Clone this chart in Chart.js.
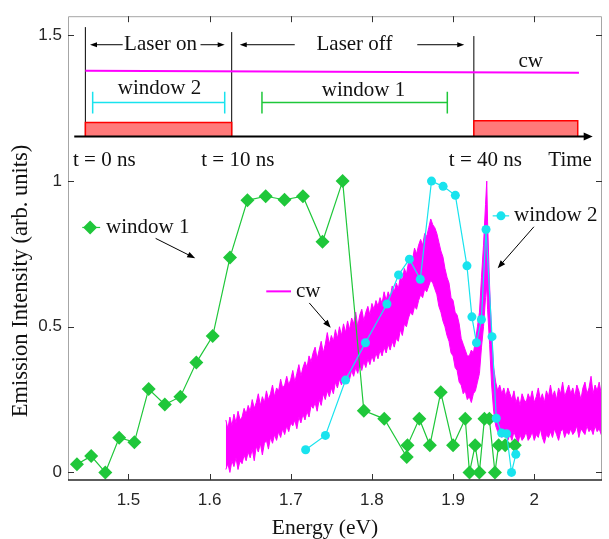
<!DOCTYPE html>
<html>
<head>
<meta charset="utf-8">
<script src="https://cdn.jsdelivr.net/npm/chart.js@4.4.0/dist/chart.umd.min.js"></script>
<style>
  body { margin: 0; background: #fff; }
</style>
</head>
<body>
<canvas id="chart" width="609" height="539"></canvas>
<script>
// window 1 (green diamonds)
const win1Energy = [1.4365, 1.4541, 1.4715, 1.4886, 1.5073, 1.5249, 1.5448, 1.5640, 1.5836, 1.6038,
                    1.6251, 1.6466, 1.6691, 1.6923, 1.7150, 1.7391, 1.7639, 1.7900, 1.8152, 1.8429,
                    1.8438, 1.8584, 1.8714, 1.8848, 1.9000, 1.9150, 1.9202, 1.9272, 1.9324, 1.9386,
                    1.9447, 1.9516, 1.9561, 1.9642, 1.9761];
const win1Value = [0.028, 0.056, 0.0, 0.119, 0.104, 0.286, 0.233, 0.260, 0.377, 0.468,
                   0.738, 0.934, 0.948, 0.936, 0.948, 0.792, 1.0, 0.212, 0.184, 0.053,
                   0.093, 0.184, 0.093, 0.275, 0.093, 0.184, 0.0, 0.093, 0.0, 0.184,
                   0.184, 0.0, 0.093, 0.093, 0.093];

// window 2 (cyan circles)
const win2Energy = [1.7183, 1.7427, 1.7675, 1.7920, 1.8185, 1.8328, 1.8462, 1.8596, 1.8734, 1.8877,
                    1.9028, 1.9171, 1.9232, 1.9288, 1.9349, 1.9406, 1.9480, 1.9532, 1.9598, 1.9659,
                    1.9720, 1.9773];
const win2Value = [0.078, 0.127, 0.317, 0.445, 0.578, 0.678, 0.732, 0.663, 1.0, 0.982,
                   0.951, 0.709, 0.534, 0.445, 0.525, 0.834, 0.466, 0.186, 0.135, 0.133,
                   0.0, 0.062];

// cw spectrum: the noisy trace is drawn as the band between its lower and upper edge
const cwEnergy = [1.6200, 1.6225, 1.6250, 1.6275, 1.6300, 1.6325, 1.6350, 1.6375, 1.6400, 1.6425,
                  1.6450, 1.6475, 1.6500, 1.6525, 1.6550, 1.6575, 1.6600, 1.6625, 1.6650, 1.6675,
                  1.6700, 1.6725, 1.6750, 1.6775, 1.6800, 1.6825, 1.6850, 1.6875, 1.6900, 1.6925,
                  1.6950, 1.6975, 1.7000, 1.7025, 1.7050, 1.7075, 1.7100, 1.7125, 1.7150, 1.7175,
                  1.7200, 1.7225, 1.7250, 1.7275, 1.7300, 1.7325, 1.7350, 1.7375, 1.7400, 1.7425,
                  1.7450, 1.7475, 1.7500, 1.7525, 1.7550, 1.7575, 1.7600, 1.7625, 1.7650, 1.7675,
                  1.7700, 1.7725, 1.7750, 1.7775, 1.7800, 1.7825, 1.7850, 1.7875, 1.7900, 1.7925,
                  1.7950, 1.7975, 1.8000, 1.8025, 1.8050, 1.8075, 1.8100, 1.8125, 1.8150, 1.8175,
                  1.8200, 1.8225, 1.8250, 1.8275, 1.8300, 1.8325, 1.8350, 1.8375, 1.8400, 1.8425,
                  1.8450, 1.8475, 1.8500, 1.8525, 1.8550, 1.8575, 1.8600, 1.8625, 1.8650, 1.8675,
                  1.8700, 1.8725, 1.8750, 1.8775, 1.8800, 1.8825, 1.8850, 1.8875, 1.8900, 1.8925,
                  1.8950, 1.8975, 1.9000, 1.9025, 1.9050, 1.9075, 1.9100, 1.9125, 1.9150, 1.9175,
                  1.9200, 1.9225, 1.9250, 1.9275, 1.9300, 1.9325, 1.9350, 1.9375, 1.9400, 1.9415, 1.9425,
                  1.9450, 1.9475, 1.9500, 1.9525, 1.9550, 1.9575, 1.9600, 1.9625, 1.9650, 1.9675,
                  1.9700, 1.9725, 1.9750, 1.9775, 1.9800, 1.9825, 1.9850, 1.9875, 1.9900, 1.9925,
                  1.9950, 1.9975, 2.0000, 2.0025, 2.0050, 2.0075, 2.0100, 2.0125, 2.0150, 2.0175,
                  2.0200, 2.0225, 2.0250, 2.0275, 2.0300, 2.0325, 2.0350, 2.0375, 2.0400, 2.0425,
                  2.0450, 2.0475, 2.0500, 2.0525, 2.0550, 2.0575, 2.0600, 2.0625, 2.0650, 2.0675,
                  2.0700, 2.0725, 2.0750, 2.0775, 2.0800, 2.0825, 2.0850];
const cwUpper = [0.18, 0.15, 0.19, 0.16, 0.20, 0.17, 0.21, 0.18, 0.19, 0.22,
                 0.20, 0.23, 0.21, 0.25, 0.22, 0.24, 0.27, 0.23, 0.26, 0.24,
                 0.28, 0.25, 0.27, 0.30, 0.26, 0.29, 0.28, 0.32, 0.29, 0.30,
                 0.33, 0.30, 0.32, 0.35, 0.31, 0.34, 0.37, 0.33, 0.36, 0.38,
                 0.36, 0.40, 0.38, 0.41, 0.43, 0.39, 0.42, 0.45, 0.41, 0.44,
                 0.48, 0.44, 0.47, 0.45, 0.49, 0.46, 0.50, 0.47, 0.51, 0.48,
                 0.52, 0.49, 0.53, 0.51, 0.55, 0.50, 0.54, 0.56, 0.52, 0.55,
                 0.57, 0.54, 0.58, 0.56, 0.59, 0.57, 0.60, 0.58, 0.62, 0.59,
                 0.62, 0.60, 0.64, 0.62, 0.65, 0.63, 0.67, 0.66, 0.70, 0.68,
                 0.72, 0.74, 0.73, 0.77, 0.75, 0.78, 0.80, 0.78, 0.82, 0.81,
                 0.84, 0.87, 0.85, 0.84, 0.82, 0.79, 0.76, 0.74, 0.70, 0.67,
                 0.65, 0.60, 0.59, 0.55, 0.54, 0.51, 0.46, 0.44, 0.42, 0.40,
                 0.40, 0.42, 0.41, 0.45, 0.50, 0.55, 0.67, 0.78, 0.92, 1.00, 0.86,
                 0.64, 0.47, 0.36, 0.31, 0.28, 0.30, 0.27, 0.29, 0.26, 0.29,
                 0.27, 0.25, 0.28, 0.24, 0.26, 0.23, 0.27, 0.25, 0.24, 0.27,
                 0.25, 0.28, 0.24, 0.26, 0.29, 0.25, 0.27, 0.24, 0.28, 0.26,
                 0.30, 0.26, 0.28, 0.25, 0.29, 0.27, 0.31, 0.26, 0.28, 0.30,
                 0.27, 0.29, 0.26, 0.30, 0.28, 0.25, 0.29, 0.31, 0.27, 0.29,
                 0.33, 0.27, 0.30, 0.28, 0.31, 0.27, 0.29];
const cwLower = [0.01, 0.03, 0.00, 0.04, 0.02, 0.05, 0.01, 0.04, 0.03, 0.06,
                 0.04, 0.07, 0.05, 0.08, 0.04, 0.09, 0.07, 0.10, 0.06, 0.10,
                 0.11, 0.08, 0.12, 0.10, 0.13, 0.11, 0.14, 0.12, 0.15, 0.13,
                 0.16, 0.14, 0.17, 0.16, 0.18, 0.15, 0.19, 0.17, 0.20, 0.18,
                 0.21, 0.19, 0.23, 0.22, 0.24, 0.21, 0.25, 0.23, 0.27, 0.25,
                 0.28, 0.26, 0.29, 0.27, 0.31, 0.29, 0.32, 0.30, 0.33, 0.31,
                 0.34, 0.32, 0.35, 0.33, 0.36, 0.34, 0.37, 0.35, 0.38, 0.36,
                 0.39, 0.37, 0.40, 0.38, 0.41, 0.39, 0.42, 0.40, 0.43, 0.41,
                 0.44, 0.42, 0.45, 0.43, 0.46, 0.45, 0.49, 0.47, 0.51, 0.50,
                 0.53, 0.55, 0.54, 0.57, 0.56, 0.59, 0.61, 0.60, 0.63, 0.62,
                 0.64, 0.66, 0.65, 0.63, 0.61, 0.57, 0.55, 0.52, 0.50, 0.47,
                 0.45, 0.41, 0.40, 0.36, 0.35, 0.31, 0.30, 0.27, 0.28, 0.25,
                 0.26, 0.24, 0.27, 0.28, 0.31, 0.34, 0.43, 0.50, 0.60, 0.64, 0.56,
                 0.44, 0.30, 0.21, 0.16, 0.14, 0.15, 0.12, 0.14, 0.13, 0.11,
                 0.13, 0.11, 0.14, 0.12, 0.10, 0.13, 0.11, 0.12, 0.14, 0.11,
                 0.12, 0.14, 0.11, 0.13, 0.12, 0.15, 0.12, 0.10, 0.13, 0.12,
                 0.14, 0.12, 0.15, 0.13, 0.11, 0.14, 0.15, 0.12, 0.14, 0.13,
                 0.15, 0.13, 0.14, 0.16, 0.12, 0.15, 0.14, 0.13, 0.16, 0.14,
                 0.15, 0.13, 0.16, 0.14, 0.15, 0.13, 0.14];

const xTicks = [1.5, 1.6, 1.7, 1.8, 1.9, 2.0];
const yTicks = [0, 0.5, 1, 1.5];

const green = '#1fc73a';
const cyan = '#19e3ee';
const magenta = '#ff00ff';

function pts(xs, ys) {
    return xs.map(function (x, i) { return { x: x, y: ys[i] }; });
}

function arrow(ctx, x1, y1, x2, y2, len, half, lw) {
    const a = Math.atan2(y2 - y1, x2 - x1);
    ctx.lineWidth = lw;
    ctx.beginPath();
    ctx.moveTo(x1, y1);
    ctx.lineTo(x2 - Math.cos(a) * len * 0.8, y2 - Math.sin(a) * len * 0.8);
    ctx.stroke();
    ctx.beginPath();
    ctx.moveTo(x2, y2);
    ctx.lineTo(x2 - Math.cos(a) * len - Math.sin(a) * half, y2 - Math.sin(a) * len + Math.cos(a) * half);
    ctx.lineTo(x2 - Math.cos(a) * len + Math.sin(a) * half, y2 - Math.sin(a) * len - Math.cos(a) * half);
    ctx.closePath();
    ctx.fill();
}

// frame, inward ticks, axis titles, timing inset and the in-plot labels
const decor = {
    id: 'decor',
    afterDatasetsDraw: function (chart) {
        const ctx = chart.ctx;
        const xs = chart.scales.x, ys = chart.scales.y;
        const X = function (v) { return xs.getPixelForValue(v); };
        const Y = function (v) { return ys.getPixelForValue(v); };
        const a = chart.chartArea;
        ctx.save();

        // box
        ctx.strokeStyle = '#a6a6a6';
        ctx.lineWidth = 1;
        ctx.beginPath();
        ctx.moveTo(a.left + 0.5, a.bottom);
        ctx.lineTo(a.left + 0.5, a.top + 0.5);
        ctx.lineTo(a.right - 0.5, a.top + 0.5);
        ctx.lineTo(a.right - 0.5, a.bottom);
        ctx.stroke();
        ctx.strokeStyle = '#262626';
        ctx.lineWidth = 1.5;
        ctx.beginPath();
        ctx.moveTo(a.left, a.bottom);
        ctx.lineTo(a.right, a.bottom);
        ctx.stroke();

        // ticks pointing in
        ctx.strokeStyle = '#333';
        ctx.lineWidth = 1;
        ctx.beginPath();
        xTicks.forEach(function (v) {
            const px = Math.round(X(v)) + 0.5;
            ctx.moveTo(px, a.bottom); ctx.lineTo(px, a.bottom - 6);
            ctx.moveTo(px, a.top); ctx.lineTo(px, a.top + 6);
        });
        yTicks.forEach(function (v) {
            const py = Math.round(Y(v)) + 0.5;
            ctx.moveTo(a.left, py); ctx.lineTo(a.left + 6, py);
            ctx.moveTo(a.right, py); ctx.lineTo(a.right - 6, py);
        });
        ctx.stroke();

        // axis titles
        ctx.fillStyle = '#111';
        ctx.textAlign = 'center';
        ctx.textBaseline = 'middle';
        ctx.font = '21.5px "Liberation Serif"';
        ctx.fillText('Energy (eV)', 325, 528);
        ctx.save();
        ctx.translate(21, 281);
        ctx.rotate(-Math.PI / 2);
        ctx.font = '22.5px "Liberation Serif"';
        ctx.fillText('Emission Intensity (arb. units)', 0, 0);
        ctx.restore();

        // timing inset
        ctx.strokeStyle = '#000';
        ctx.fillStyle = '#000';
        ctx.lineWidth = 1;
        ctx.beginPath();
        ctx.moveTo(X(1.4469), Y(1.5285)); ctx.lineTo(X(1.4469), Y(1.1534));
        ctx.moveTo(X(1.6272), Y(1.5114)); ctx.lineTo(X(1.6272), Y(1.1534));
        ctx.moveTo(X(1.9256), Y(1.4978)); ctx.lineTo(X(1.9256), Y(1.1534));
        ctx.stroke();

        // pulses
        ctx.fillStyle = '#ff7a7a';
        ctx.strokeStyle = '#ff0000';
        ctx.lineWidth = 1.5;
        [[1.4469, 1.6272, 1.2012], [1.9256, 2.0536, 1.2070]].forEach(function (p) {
            const x0 = X(p[0]), x1 = X(p[1]), y0 = Y(p[2]), y1 = Y(1.1534);
            ctx.fillRect(x0, y0, x1 - x0, y1 - y0);
            ctx.beginPath();
            ctx.moveTo(x0, y1); ctx.lineTo(x0, y0); ctx.lineTo(x1, y0); ctx.lineTo(x1, y1);
            ctx.stroke();
        });

        // time axis
        ctx.strokeStyle = '#000';
        ctx.fillStyle = '#000';
        arrow(ctx, X(1.4332), Y(1.1534), X(2.0720), Y(1.1534), 9, 4, 2);

        // cw line
        ctx.strokeStyle = magenta;
        ctx.lineWidth = 2;
        ctx.beginPath();
        ctx.moveTo(X(1.4469), Y(1.3785));
        ctx.lineTo(X(2.0551), Y(1.3717));
        ctx.stroke();

        // gate windows
        [[1.4559, 1.6186, cyan], [1.6645, 1.8929, green]].forEach(function (w) {
            ctx.strokeStyle = w[2];
            ctx.lineWidth = 1.5;
            ctx.beginPath();
            ctx.moveTo(X(w[0]), Y(1.2694)); ctx.lineTo(X(w[1]), Y(1.2694));
            ctx.moveTo(X(w[0]), Y(1.3069)); ctx.lineTo(X(w[0]), Y(1.2318));
            ctx.moveTo(X(w[1]), Y(1.3069)); ctx.lineTo(X(w[1]), Y(1.2318));
            ctx.stroke();
        });

        // laser on / off arrows
        ctx.strokeStyle = '#000';
        ctx.fillStyle = '#000';
        arrow(ctx, X(1.4929), Y(1.4681), X(1.4526), Y(1.4681), 7, 2.5, 1);
        arrow(ctx, X(1.5888), Y(1.4681), X(1.6186), Y(1.4681), 7, 2.5, 1);
        arrow(ctx, X(1.7049), Y(1.4681), X(1.6371), Y(1.4681), 7, 2.5, 1);
        arrow(ctx, X(1.8559), Y(1.4681), X(1.9138), Y(1.4681), 7, 2.5, 1);

        ctx.fillStyle = '#111';
        ctx.font = '21px "Liberation Serif"';
        ctx.textAlign = 'center';
        ctx.fillText('Laser on', X(1.5395), Y(1.4681));
        ctx.fillText('Laser off', X(1.7785), Y(1.4681));
        ctx.fillText('cw', X(1.9956), Y(1.4091));
        ctx.fillText('window 2', X(1.5382), Y(1.3171));
        ctx.fillText('window 1', X(1.7896), Y(1.3103));
        ctx.fillText('t = 0 ns', X(1.4702), Y(1.0706));
        ctx.fillText('t = 10 ns', X(1.6347), Y(1.0706));
        ctx.fillText('t = 40 ns', X(1.9398), Y(1.0706));
        ctx.fillText('Time', X(2.0442), Y(1.0706));

        // in-plot labels
        ctx.textAlign = 'left';
        ctx.strokeStyle = green;
        ctx.lineWidth = 1.2;
        ctx.beginPath();
        ctx.moveTo(X(1.4431), Y(0.8408)); ctx.lineTo(X(1.4651), Y(0.8408));
        ctx.stroke();
        ctx.fillStyle = green;
        const dx = X(1.4528), dy = Y(0.8408);
        ctx.beginPath();
        ctx.moveTo(dx, dy - 7); ctx.lineTo(dx + 7, dy); ctx.lineTo(dx, dy + 7); ctx.lineTo(dx - 7, dy);
        ctx.closePath();
        ctx.fill();
        ctx.fillStyle = '#111';
        ctx.fillText('window 1', X(1.4724), Y(0.8408));

        ctx.strokeStyle = magenta;
        ctx.lineWidth = 2;
        ctx.beginPath();
        ctx.moveTo(X(1.6698), Y(0.6215)); ctx.lineTo(X(1.7003), Y(0.6215));
        ctx.stroke();
        ctx.fillText('cw', X(1.7064), Y(0.6215));

        ctx.strokeStyle = cyan;
        ctx.lineWidth = 1.2;
        ctx.beginPath();
        ctx.moveTo(X(1.9488), Y(0.8807)); ctx.lineTo(X(1.9691), Y(0.8807));
        ctx.stroke();
        ctx.fillStyle = cyan;
        ctx.beginPath();
        ctx.arc(X(1.9590), Y(0.8807), 4.5, 0, Math.PI * 2);
        ctx.fill();
        ctx.fillStyle = '#111';
        ctx.fillText('window 2', X(1.9752), Y(0.8807));

        ctx.strokeStyle = '#000';
        ctx.fillStyle = '#000';
        arrow(ctx, X(1.5335), Y(0.8033), X(1.5823), Y(0.7351), 8, 3, 1);
        arrow(ctx, X(1.7228), Y(0.5817), X(1.7492), Y(0.4964), 8, 3, 1);
        arrow(ctx, X(1.9996), Y(0.8432), X(1.9549), Y(0.7010), 8, 3, 1);

        ctx.restore();
    }
};

const ctx = document.getElementById('chart').getContext('2d');

const myChart = new Chart(ctx, {
    type: 'scatter',
    data: {
        datasets: [{
            label: 'cw lower',
            data: pts(cwEnergy, cwLower),
            showLine: true,
            borderColor: magenta,
            borderWidth: 1,
            pointRadius: 0,
            fill: false,
            order: 3
        }, {
            label: 'cw',
            data: pts(cwEnergy, cwUpper),
            showLine: true,
            borderColor: magenta,
            backgroundColor: magenta,
            borderWidth: 1,
            pointRadius: 0,
            fill: 0,
            order: 3
        }, {
            label: 'window 1',
            data: pts(win1Energy, win1Value),
            showLine: true,
            borderColor: green,
            borderWidth: 1.2,
            pointStyle: 'rectRot',
            pointRadius: 7,
            pointBackgroundColor: green,
            pointBorderWidth: 0,
            order: 2
        }, {
            label: 'window 2',
            data: pts(win2Energy, win2Value),
            showLine: true,
            borderColor: cyan,
            borderWidth: 1.2,
            pointStyle: 'circle',
            pointRadius: 4.5,
            pointBackgroundColor: cyan,
            pointBorderWidth: 0,
            order: 1
        }]
    },
    options: {
        responsive: false,
        animation: false,
        layout: { padding: { top: 13, right: 2, left: 0, bottom: 0 } },
        plugins: {
            legend: { display: false },
            tooltip: { enabled: false }
        },
        scales: {
            x: {
                type: 'linear',
                min: 1.4255,
                max: 2.0835,
                afterBuildTicks: function (s) { s.ticks = xTicks.map(function (v) { return { value: v }; }); },
                afterFit: function (s) { s.height = 59; },
                grid: { display: false, drawTicks: false },
                border: { display: false },
                ticks: {
                    padding: 10,
                    color: '#262626',
                    maxRotation: 0,
                    font: { family: 'Liberation Sans', size: 17 },
                    callback: function (v) { return String(v); }
                }
            },
            y: {
                min: -0.026,
                max: 1.566,
                afterBuildTicks: function (s) { s.ticks = yTicks.map(function (v) { return { value: v }; }); },
                afterFit: function (s) { s.width = 68; },
                grid: { display: false, drawTicks: false },
                border: { display: false },
                ticks: {
                    padding: 6,
                    color: '#262626',
                    font: { family: 'Liberation Sans', size: 17 },
                    callback: function (v) { return String(v); }
                }
            }
        }
    },
    plugins: [decor]
});
</script>
</body>
</html>
